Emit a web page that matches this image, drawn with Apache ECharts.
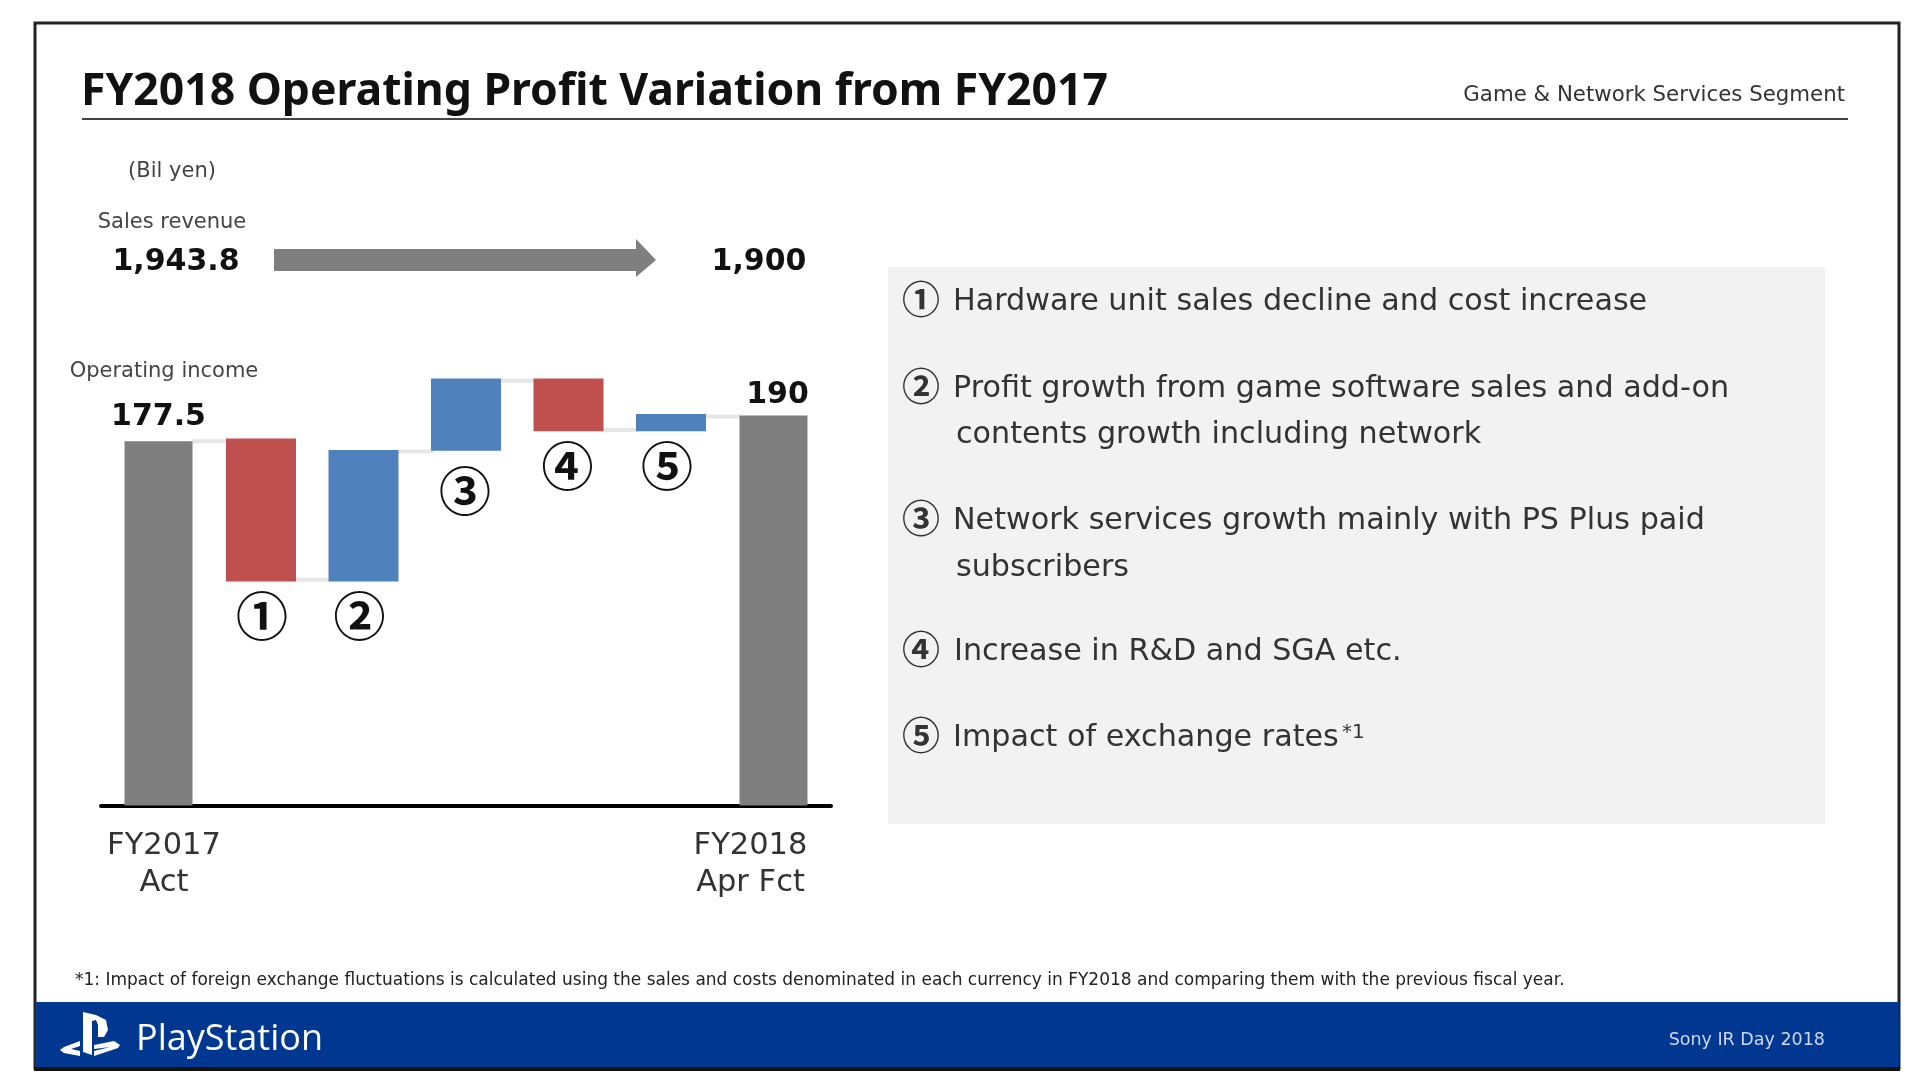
<!DOCTYPE html>
<html>
<head>
<meta charset="utf-8">
<title>FY2018 Operating Profit Variation</title>
<script src="https://cdn.jsdelivr.net/npm/echarts@6/dist/echarts.min.js"></script>
<style>
html, body { margin: 0; padding: 0; background: #fff; }
#main { width: 1920px; height: 1091px; }
</style>
</head>
<body>
<div id="main"></div>
<script>
// values (bil yen)
var categories = ['FY2017\nAct', '', '', '', '', '', 'FY2018\nApr Fct'];
var totalValues = [177.5, null, null, null, null, null, 190];
var totalLabels = ['177.5', '', '', '', '', '', '190'];
var stepBase = [null, 109.2, 109.2, 172.8, 182.4, 182.4, null];
var stepSize = [null, 69.6, 64, 35.2, 25.6, 8.3, null];
var stepKind = [null, 'down', 'up', 'up', 'down', 'up', null];
var stepMarks = ['', '①', '②', '③', '④', '⑤', ''];
var connectorLevels = [177.5, 110, 172.5, 207, 183, 189.5];

var titleText = 'FY2018 Operating Profit Variation from FY2017';
var segmentText = 'Game & Network Services Segment';
var revenueFrom = '1,943.8';
var revenueTo = '1,900';
var panelItems = [
    ['①', 'Hardware unit sales decline and cost increase'],
    ['②', 'Profit growth from game software sales and add-on'],
    ['', 'contents growth including network'],
    ['③', 'Network services growth mainly with PS Plus paid'],
    ['', 'subscribers'],
    ['④', 'Increase in R&D and SGA etc.'],
    ['⑤', 'Impact of exchange rates']
];
var footnoteText = '*1: Impact of foreign exchange fluctuations is calculated using the sales and costs denominated in each currency in FY2018 and comparing them with the previous fiscal year.';

var FONT = '"DejaVu Sans"';
var CJK = '"Noto Sans CJK JP"';
var stepColors = { down: '#C0504D', up: '#4F81BD' };

var myChart = echarts.init(document.getElementById('main'));

// small helper for the slide's static text
function txt(text, x, y, size, opt) {
    opt = opt || {};
    return {
        type: 'text',
        z: 10,
        style: {
            text: text,
            x: x,
            y: y,
            fill: opt.fill || '#333',
            fontSize: size,
            fontFamily: opt.family || FONT,
            fontWeight: opt.weight || 'normal',
            align: opt.align || 'left',
            verticalAlign: 'middle'
        }
    };
}

var panelY = [302, 389, 435, 521, 568, 652, 738];
var panelX = [953, 953, 956, 953, 956, 954, 953];
// nudges of the circled numbers under the bars
var markShift = [0, 1, -4, -1, -1, -4, 0];

var graphics = [
    // frame
    { type: 'rect', z: 0, shape: { x: 35, y: 23, width: 1864, height: 1045 }, style: { fill: '#fff', stroke: '#222', lineWidth: 3 } },
    // footer band
    { type: 'rect', z: 1, shape: { x: 35, y: 1002, width: 1864, height: 66 }, style: { fill: '#003791' } },
    { type: 'rect', z: 1, shape: { x: 34, y: 1067, width: 1866, height: 4 }, style: { fill: '#111' } },
    // rule under the title
    { type: 'line', z: 1, shape: { x1: 82, y1: 119, x2: 1848, y2: 119 }, style: { stroke: '#444', lineWidth: 2 } },
    // grey panel
    { type: 'rect', z: 0, shape: { x: 888, y: 267, width: 937, height: 557 }, style: { fill: '#F2F2F2' } },
    // sales revenue arrow
    { type: 'polygon', z: 1, shape: { points: [[274, 249], [636, 249], [636, 239], [656, 260], [636, 277], [636, 271], [274, 271]] }, style: { fill: '#7F7F7F' } },
    // PlayStation logo
    { type: 'polygon', z: 5, shape: { points: [[83, 1012], [83, 1052], [92, 1055], [92, 1021], [96, 1020], [98, 1025], [98, 1037], [104, 1037], [108, 1030], [106, 1020], [96, 1015]] }, style: { fill: '#fff' } },
    { type: 'polygon', z: 5, shape: { points: [[80, 1041], [64, 1047], [60, 1050], [64, 1053], [80, 1056], [80, 1051], [71, 1049], [80, 1046]] }, style: { fill: '#fff' } },
    { type: 'polygon', z: 5, shape: { points: [[94, 1045], [114, 1041], [120, 1045], [118, 1048], [94, 1056], [94, 1051], [110, 1047], [94, 1049]] }, style: { fill: '#fff' } },
    txt(segmentText, 1845, 95, 21.3, { align: 'right' }),
    txt('(Bil yen)', 172, 172, 21, { align: 'center', fill: '#444' }),
    txt('Sales revenue', 172, 223, 21, { align: 'center', fill: '#444' }),
    txt(revenueFrom, 176, 262, 30, { align: 'center', weight: 'bold', fill: '#111' }),
    txt(revenueTo, 759, 262, 30, { align: 'center', weight: 'bold', fill: '#111' }),
    txt('Operating income', 164, 372, 21, { align: 'center', fill: '#444' }),
    txt(footnoteText, 75, 981, 17, { fill: '#222' }),
    txt('PlayStation', 136, 1040, 36, { fill: '#fff', family: '"Open Sans"' }),
    txt('Sony IR Day 2018', 1825, 1040, 17.5, { align: 'right', fill: '#cfd8ea' })
];

panelItems.forEach(function (item, i) {
    if (item[0]) {
        graphics.push(txt(item[0], 921, panelY[i] - 3, 38, { align: 'center', family: CJK, weight: 'bold', fill: '#333' }));
    }
    graphics.push(txt(item[1], panelX[i], panelY[i], 30.2, { fill: '#333' }));
});
// footnote marker after the last panel line
graphics.push(txt('*1', 1342, 733, 20, { fill: '#333' }));

var option = {
    animation: false,
    backgroundColor: '#fff',
    title: {
        text: titleText,
        left: 81,
        top: 70,
        padding: 0,
        textStyle: { fontFamily: '"Noto Sans"', fontWeight: 'bold', fontSize: 44.5, color: '#111' }
    },
    grid: [
        { left: 107.25, width: 717.5, top: 374.5, bottom: 285.4 },
        { left: 101, width: 730, top: 374.5, bottom: 285.4 }
    ],
    xAxis: [
        {
            type: 'category',
            data: categories.map(function (c, i) {
                // the captions sit off-centre from their bars on the slide
                if (i === 0) return { value: c, textStyle: { padding: [0, 0, 0, 11] } };
                if (i === 6) return { value: c, textStyle: { padding: [0, 46, 0, 0] } };
                return c;
            }),
            axisLine: { show: false },
            axisTick: { show: false },
            axisLabel: { interval: 0, margin: 22, fontFamily: FONT, fontSize: 30.5, lineHeight: 37, color: '#333' }
        },
        { type: 'category', data: categories, position: 'top', show: false },
        {
            gridIndex: 1, type: 'value', min: 0, max: 1,
            axisLine: { show: true, lineStyle: { color: '#000', width: 4 } },
            axisTick: { show: false }, axisLabel: { show: false }, splitLine: { show: false }
        }
    ],
    yAxis: [
        { type: 'value', min: 0, max: 210, show: false },
        { gridIndex: 1, type: 'value', min: 0, max: 1, show: false }
    ],
    series: [
        {
            // thin links between neighbouring bars
            name: 'Connector',
            type: 'custom',
            xAxisIndex: 0,
            yAxisIndex: 0,
            z: 1,
            data: connectorLevels.map(function (v, i) { return [i, v]; }),
            renderItem: function (params, api) {
                var a = api.coord([api.value(0), api.value(1)]);
                var b = api.coord([api.value(0) + 1, api.value(1)]);
                return {
                    type: 'line',
                    shape: { x1: a[0] + 33, y1: a[1], x2: b[0] - 33, y2: b[1] },
                    style: { stroke: '#E6E6E6', lineWidth: 4 }
                };
            }
        },
        {
            name: 'Base',
            type: 'bar',
            stack: 'steps',
            barWidth: 70,
            z: 2,
            silent: true,
            itemStyle: { color: 'transparent' },
            data: stepBase
        },
        {
            name: 'Variation',
            type: 'bar',
            stack: 'steps',
            barWidth: 70,
            z: 2,
            data: stepSize.map(function (v, i) {
                return {
                    value: v,
                    itemStyle: { color: stepColors[stepKind[i]] || '#7F7F7F' },
                    label: {
                        show: !!stepMarks[i],
                        position: 'bottom',
                        distance: i === 3 ? 14 : 9,
                        offset: [markShift[i], 0],
                        formatter: stepMarks[i],
                        fontFamily: CJK,
                        fontWeight: 'bold',
                        fontSize: 52,
                        color: '#111'
                    }
                };
            })
        },
        {
            name: 'Operating income',
            type: 'bar',
            xAxisIndex: 1,
            yAxisIndex: 0,
            barWidth: 68,
            z: 2,
            itemStyle: { color: '#7F7F7F' },
            label: {
                show: true,
                position: 'top',
                distance: 9,
                fontFamily: FONT,
                fontWeight: 'bold',
                fontSize: 30,
                color: '#111',
                formatter: function (p) { return totalLabels[p.dataIndex]; }
            },
            data: totalValues.map(function (v, i) {
                // the 190 sits a little lower and to the right on the slide
                return i === 6 ? { value: v, label: { offset: [4, 4] } } : v;
            })
        },
        {
            // empty series so the second grid keeps its axis
            type: 'line',
            xAxisIndex: 2,
            yAxisIndex: 1,
            data: []
        }
    ],
    graphic: graphics
};

option && myChart.setOption(option);
</script>
</body>
</html>
